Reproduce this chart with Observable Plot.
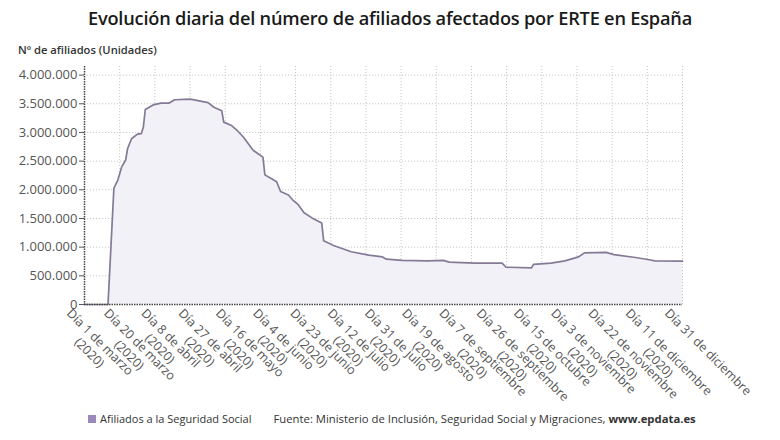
<!DOCTYPE html>
<html><head><meta charset="utf-8">
<script src="https://cdn.jsdelivr.net/npm/d3@7"></script>
<script src="https://cdn.jsdelivr.net/npm/@observablehq/plot@0.6"></script>
<style>
body{margin:0;background:#fff;font-family:"Open Sans",sans-serif;width:780px;height:440px;overflow:hidden;position:relative}
#title{position:absolute;top:6px;left:0;width:780px;text-align:center;font-size:18.2px;font-weight:600;color:#1a1a1a;letter-spacing:-0.2px}
#sub{position:absolute;top:42px;left:18px;font-size:11.2px;font-weight:600;color:#333}
#chart{position:absolute;top:56px;left:0}
#legend{position:absolute;top:411px;left:88px;font-size:11px;color:#333;white-space:nowrap}
#legend .sw{display:inline-block;width:8px;height:8px;background:#9d88bb;margin-right:4px;vertical-align:-0px}
#legend .src{margin-left:22px;font-size:11.3px}
</style></head><body>
<div id="title">Evolución diaria del número de afiliados afectados por ERTE en España</div>
<div id="sub">Nº de afiliados (Unidades)</div>
<div id="chart"></div>
<div id="legend"><span class="sw"></span>Afiliados a la Seguridad Social<span class="src">Fuente: Ministerio de Inclusión, Seguridad Social y Migraciones, <b>www.epdata.es</b></span></div>
<script>
// Series
const dates = ["2020-03-01","2020-03-13","2020-03-16","2020-03-18","2020-03-20","2020-03-22","2020-03-23","2020-03-25","2020-03-28","2020-03-30","2020-03-31",
"2020-04-01","2020-04-03","2020-04-05","2020-04-09","2020-04-13","2020-04-16","2020-04-24",
"2020-05-03","2020-05-06","2020-05-10","2020-05-11","2020-05-15","2020-05-18","2020-05-21","2020-05-23","2020-05-26","2020-05-31",
"2020-06-01","2020-06-04","2020-06-07","2020-06-09","2020-06-13","2020-06-15","2020-06-18","2020-06-21","2020-06-25","2020-06-30",
"2020-07-01","2020-07-06","2020-07-15","2020-07-24","2020-07-31",
"2020-08-02","2020-08-10","2020-08-23","2020-08-31",
"2020-09-03","2020-09-16","2020-09-30",
"2020-10-02","2020-10-15","2020-10-16","2020-10-25",
"2020-11-01","2020-11-08","2020-11-11","2020-11-22","2020-11-26",
"2020-12-07","2020-12-14","2020-12-17","2020-12-31"];
const afiliados = [0,0,2030000,2170000,2400000,2520000,2720000,2890000,2970000,2980000,3090000,
3400000,3440000,3480000,3510000,3510000,3570000,3580000,
3520000,3440000,3380000,3180000,3120000,3030000,2920000,2830000,2690000,2570000,
2260000,2200000,2140000,1970000,1910000,1830000,1740000,1600000,1510000,1420000,
1110000,1030000,920000,860000,830000,
790000,770000,760000,770000,
740000,720000,720000,
650000,640000,700000,720000,
760000,830000,900000,910000,870000,
820000,780000,760000,755000];

// Axis ticks
const yTicks = [0,500000,1000000,1500000,2000000,2500000,3000000,3500000,4000000];
const xTickDates = ["2020-03-01","2020-03-20","2020-04-08","2020-04-27","2020-05-16","2020-06-04","2020-06-23","2020-07-12","2020-07-31","2020-08-19","2020-09-07","2020-09-26","2020-10-15","2020-11-03","2020-11-22","2020-12-11","2020-12-31"];
const xTickLabels = ["Día 1 de marzo\n(2020)","Día 20 de marzo\n(2020)","Día 8 de abril\n(2020)","Día 27 de abril\n(2020)","Día 16 de mayo\n(2020)","Día 4 de junio\n(2020)","Día 23 de junio\n(2020)","Día 12 de julio\n(2020)","Día 31 de julio\n(2020)","Día 19 de agosto\n(2020)","Día 7 de septiembre\n(2020)","Día 26 de septiembre\n(2020)","Día 15 de octubre\n(2020)","Día 3 de noviembre\n(2020)","Día 22 de noviembre\n(2020)","Día 11 de diciembre\n(2020)","Día 31 de diciembre"];
const gridCount = 17;

const data = dates.map((d, i) => ({date: new Date(d), value: afiliados[i]}));
const xDomain = [new Date(dates[0]), new Date(dates[dates.length - 1])];
const span = xDomain[1] - xDomain[0];
const gridDates = d3.range(gridCount + 1).map(k => new Date(+xDomain[0] + span * k / gridCount));
const fmt = d3.formatLocale({decimal: ",", thousands: ".", grouping: [3], currency: ["", "€"]}).format(",d");

const FS = 12.5;
const ctx = document.createElement("canvas").getContext("2d");
ctx.font = `${FS}px "Open Sans"`;
const c = Math.SQRT1_2;
const labelMarks = xTickDates.map((d, i) => {
  const lines = xTickLabels[i].split("\n");
  const w = ctx.measureText(lines[0]).width;
  const along = w / 2;
  return Plot.text([new Date(d)], {
    x: v => v, frameAnchor: "bottom", text: () => xTickLabels[i],
    rotate: 45, textAnchor: "middle", lineAnchor: "top", lineHeight: 1.2,
    fontSize: FS, fill: "#555",
    dx: -11 + along * c, dy: 2 + along * c
  });
});

const dash = "1.2,1.8";
const chart = Plot.plot({
  width: 780, height: 352,
  marginLeft: 84, marginRight: 98, marginTop: 10, marginBottom: 104,
  style: {fontFamily: "Open Sans", fontSize: "13px", color: "#555", background: "transparent", overflow: "visible"},
  x: {type: "utc", domain: xDomain, axis: null},
  y: {domain: [0, 4150000], ticks: yTicks, tickFormat: fmt, label: null, tickSize: 5, tickPadding: 2},
  marks: [
    Plot.ruleY(yTicks.slice(1), {stroke: "#c8c8c8", strokeDasharray: dash}),
    Plot.ruleX(gridDates.slice(1), {stroke: "#c8c8c8", strokeDasharray: dash}),
    Plot.areaY(data, {x: "date", y: "value", fill: "#f3f1f8"}),
    Plot.lineY(data, {x: "date", y: "value", stroke: "#857a96", strokeWidth: 1.7}),
    Plot.ruleX([xDomain[0]], {stroke: "#444", strokeDasharray: "1.5,1", strokeWidth: 1.5}),
    Plot.ruleY([0], {stroke: "#444", strokeDasharray: "1.5,1", strokeWidth: 1.5}),
    ...labelMarks
  ]
});
document.getElementById("chart").appendChild(chart);
</script>
</body></html>
